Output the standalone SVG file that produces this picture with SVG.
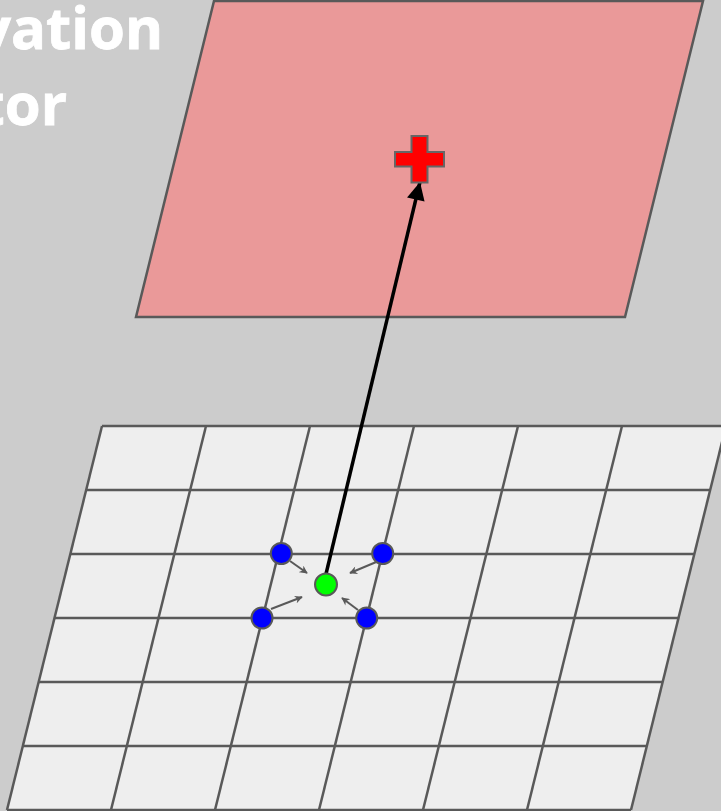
<svg xmlns="http://www.w3.org/2000/svg" width="721" height="811" viewBox="0 0 721 811">
<style>
.title{font-family:"Open Sans","Noto Sans","Liberation Sans",sans-serif;font-weight:700;font-size:58px;fill:#ffffff;text-anchor:end;stroke:#ffffff;stroke-width:0.8}
.grid{fill:none;stroke:#595959;stroke-width:2.5}
.pt{stroke:#595959;stroke-width:2}
.small{stroke:#595959;stroke-width:2;fill:none;marker-end:url(#sa)}
</style>
<defs>
<marker id="sa" viewBox="0 0 10 10" refX="9" refY="5" markerWidth="9" markerHeight="8" orient="auto" markerUnits="userSpaceOnUse">
<path d="M0,0 L10,5 L0,10 L3,5 z" fill="#595959"/>
</marker>
<marker id="ba" viewBox="0 0 10 10" refX="10" refY="5" markerWidth="27" markerHeight="18" orient="auto" markerUnits="userSpaceOnUse">
<path d="M0,0 L10,5 L0,10 z" fill="#000000"/>
</marker>
</defs>
<rect x="0" y="0" width="721" height="811" fill="#cccccc"/>
<g id="title">
<text class="title" x="163" y="49">vation</text>
<text class="title" x="67" y="125">tor</text>
</g>
<g id="observation-plane">
<polygon points="214,1 703,1 625,317 136,317" fill="#ea9999" stroke="#595959" stroke-width="2.5"/>
</g>
<g id="model-grid">
<polygon points="102,426 726,426 631,810 7,810" fill="#eeeeee"/>
<g class="grid">
<line x1="102" y1="426" x2="726" y2="426"/>
<line x1="86.2" y1="490" x2="710.2" y2="490"/>
<line x1="70.3" y1="554" x2="694.3" y2="554"/>
<line x1="54.5" y1="618" x2="678.5" y2="618"/>
<line x1="38.7" y1="682" x2="662.7" y2="682"/>
<line x1="22.8" y1="746" x2="646.8" y2="746"/>
<line x1="7" y1="810" x2="631" y2="810"/>
<line x1="102" y1="426" x2="7" y2="810"/>
<line x1="206" y1="426" x2="111" y2="810"/>
<line x1="310" y1="426" x2="215" y2="810"/>
<line x1="414" y1="426" x2="319" y2="810"/>
<line x1="518" y1="426" x2="423" y2="810"/>
<line x1="622" y1="426" x2="527" y2="810"/>
<line x1="726" y1="426" x2="631" y2="810"/>
</g>
</g>
<g id="connectors">
<line x1="326" y1="574" x2="420" y2="182" stroke="#000000" stroke-width="3.5" marker-end="url(#ba)"/>
<line class="small" x1="290" y1="561" x2="307" y2="573"/>
<line class="small" x1="381" y1="560" x2="350" y2="573"/>
<line class="small" x1="271" y1="609" x2="302" y2="597"/>
<line class="small" x1="358" y1="610" x2="342" y2="598"/>
</g>
<g id="observation">
<path d="M411.5,136 H427.5 V152 H444 V166.5 H427.5 V182.5 H411.5 V166.5 H395 V152 H411.5 Z" fill="#ff0000" stroke="#666666" stroke-width="2"/>
</g>
<g id="grid-point-1"><circle class="pt" cx="281.3" cy="553.5" r="10.5" fill="#0000ff"/></g>
<g id="grid-point-2"><circle class="pt" cx="382.7" cy="553.5" r="10.5" fill="#0000ff"/></g>
<g id="grid-point-3"><circle class="pt" cx="262" cy="618" r="10.5" fill="#0000ff"/></g>
<g id="grid-point-4"><circle class="pt" cx="366.7" cy="618" r="10.5" fill="#0000ff"/></g>
<g id="interpolated-point"><circle class="pt" cx="326" cy="584.5" r="11" fill="#00ff00"/></g>
</svg>
